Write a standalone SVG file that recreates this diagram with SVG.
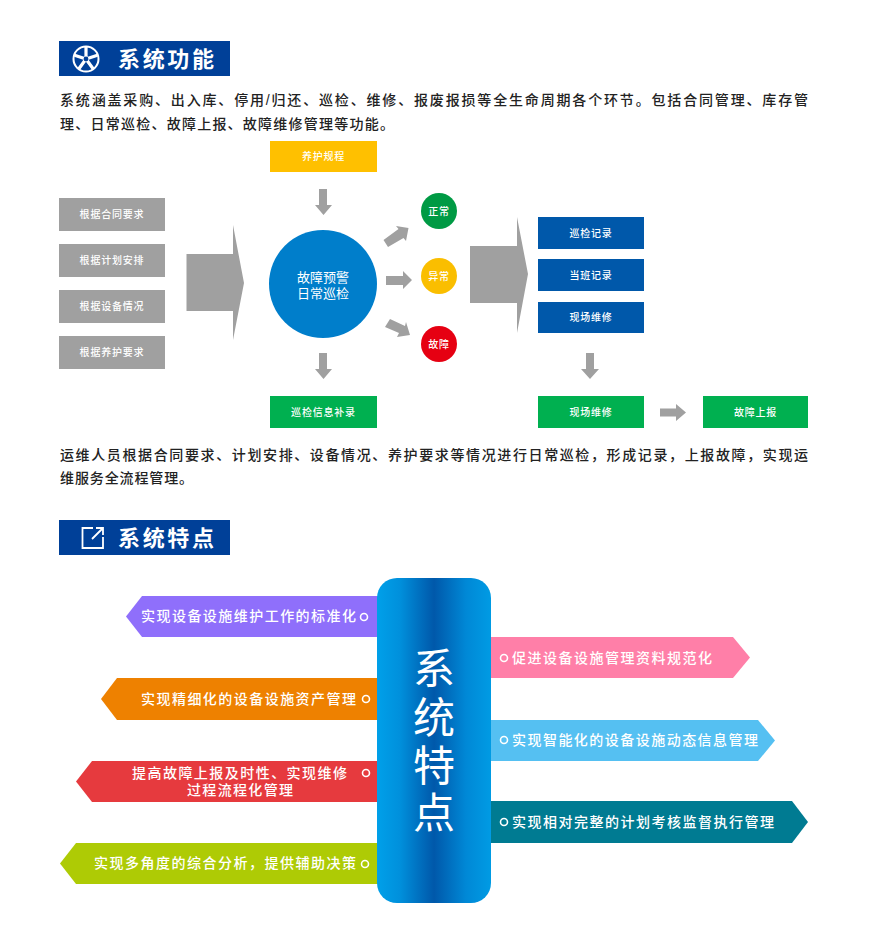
<svg xmlns="http://www.w3.org/2000/svg" width="883" height="948" viewBox="0 0 883 948">
<style>
text{font-family:"Liberation Sans","Noto Sans CJK SC",sans-serif}
.head{fill:#004098}
.ht{font-size:22px;font-weight:700;fill:#fff}
.body{font-size:14px;font-weight:500;fill:#222}
.box{font-size:10px;font-weight:500;fill:#fff;text-anchor:middle;letter-spacing:.8px}
.ban{font-size:14px;font-weight:500;fill:#fff}
.ring{fill:none;stroke:#fff;stroke-width:1.6}
.ar{fill:#a0a0a0}
</style>
<defs>
<linearGradient id="pill" x1="0" x2="1" y1="0" y2="0">
<stop offset="0" stop-color="#00a0e9"/><stop offset=".2" stop-color="#0090dc"/><stop offset=".5" stop-color="#0058aa"/><stop offset=".78" stop-color="#0088d6"/><stop offset="1" stop-color="#009be4"/>
</linearGradient>
</defs>
<rect width="883" height="948" fill="#fff"/>
<g id="header-functions">
<rect class="head" x="59" y="41" width="171" height="35"/>
<circle cx="86" cy="59" r="12.500" fill="none" stroke="#fff" stroke-width="2"/>
<path d="M86 47V59M97.400 55.300L86 59M93.100 68.700L86 59M78.900 68.700L86 59M74.600 55.300L86 59" stroke="#fff" stroke-width="3.200" fill="none"/>
<circle cx="86" cy="59" r="2.400" fill="#004098"/>
<text class="ht" x="118" y="67" textLength="96">系统功能</text>
</g>
<g id="intro">
<text class="body" x="60" y="105" textLength="748">系统涵盖采购、出入库、停用/归还、巡检、维修、报废报损等全生命周期各个环节。包括合同管理、库存管</text>
<text class="body" x="60" y="129" textLength="334">理、日常巡检、故障上报、故障维修管理等功能。</text>
</g>
<g id="connectors">
<path class="ar" d="M186.500 254H233V225L244 283 233 340V311H186.500Z"/>
<path class="ar" d="M470 246H517V217L528 274 517 333V303H470Z"/>
<path class="ar" d="M319 189H327V205H332L323.500 215 315 205H319Z"/>
<path class="ar" d="M319 353H327V369H332L323.500 379 315 369H319Z"/>
<path class="ar" d="M586 353H594V369H599L590 379 581 369H586Z"/>
<path class="ar" d="M660 408.500H676V404L686 412.500 676 421V416.500H660Z"/>
<path class="ar" d="M383.500 240L398.500 229 396 226 408.500 228 406 241 403.500 238 388 247Z"/>
<path class="ar" d="M386 276H403V271L412 280 403 289V285H386Z"/>
<path class="ar" d="M390 319L405 326 406 322 410 335 397 337 399 333 385 327Z"/>
</g>
<g id="inputs">
<g id="input-1"><rect class="ar" x="59" y="198" width="106" height="33"/><text class="box" x="112" y="218">根据合同要求</text></g>
<g id="input-2"><rect class="ar" x="59" y="244" width="106" height="33"/><text class="box" x="112" y="264">根据计划安排</text></g>
<g id="input-3"><rect class="ar" x="59" y="290" width="106" height="33"/><text class="box" x="112" y="310">根据设备情况</text></g>
<g id="input-4"><rect class="ar" x="59" y="336" width="106" height="33"/><text class="box" x="112" y="356">根据养护要求</text></g>
</g>
<g id="node-rules"><rect x="270" y="141" width="107" height="31" fill="#ffc000"/><text class="box" x="323.500" y="160">养护规程</text></g>
<g id="node-center"><circle cx="323" cy="284" r="54" fill="#007ecb"/>
<text fill="#fff" font-size="13" text-anchor="middle"><tspan x="323" y="281.500">故障预警</tspan><tspan x="323" y="297.500">日常巡检</tspan></text></g>
<g id="node-normal"><circle cx="439" cy="211" r="18" fill="#009a44"/><text class="box" x="439" y="215">正常</text></g>
<g id="node-abnormal"><circle cx="439" cy="276" r="18" fill="#fabe00"/><text class="box" x="439" y="280">异常</text></g>
<g id="node-fault"><circle cx="439" cy="344" r="18" fill="#e60012"/><text class="box" x="439" y="348">故障</text></g>
<g id="node-patrol"><rect x="538" y="217" width="106" height="32" fill="#0058aa"/><text class="box" x="591" y="237">巡检记录</text></g>
<g id="node-duty"><rect x="538" y="259" width="106" height="32" fill="#0058aa"/><text class="box" x="591" y="279">当班记录</text></g>
<g id="node-site"><rect x="538" y="302" width="106" height="31" fill="#0058aa"/><text class="box" x="591" y="321">现场维修</text></g>
<g id="node-supp"><rect x="270" y="396" width="107" height="32" fill="#00b050"/><text class="box" x="323.500" y="416">巡检信息补录</text></g>
<g id="node-repair"><rect x="538" y="396" width="106" height="32" fill="#00b050"/><text class="box" x="591" y="416">现场维修</text></g>
<g id="node-report"><rect x="703" y="396" width="105" height="32" fill="#00b050"/><text class="box" x="755.500" y="416">故障上报</text></g>
<g id="summary">
<text class="body" x="60" y="460" textLength="748">运维人员根据合同要求、计划安排、设备情况、养护要求等情况进行日常巡检，形成记录，上报故障，实现运</text>
<text class="body" x="60" y="483" textLength="133">维服务全流程管理。</text>
</g>
<g id="header-features">
<rect class="head" x="59" y="520" width="171" height="35"/>
<path d="M93 528H82.500V548H103V537M92 539L102.500 528.500M96 528H103V535" fill="none" stroke="#fff" stroke-width="1.800"/>
<text class="ht" x="118" y="546" textLength="96">系统特点</text>
</g>
<g id="banner-1"><path d="M142 596H380V637H142L126 616.500Z" fill="#8f6ffb"/><text class="ban" x="141" y="621" textLength="215">实现设备设施维护工作的标准化</text><circle class="ring" cx="364" cy="617" r="3.500"/></g>
<g id="banner-2"><path d="M117 678H380V720H117L101 699Z" fill="#ee8100"/><text class="ban" x="141" y="704" textLength="215">实现精细化的设备设施资产管理</text><circle class="ring" cx="366" cy="699" r="3.500"/></g>
<g id="banner-3"><path d="M92 761H380V802H92L76 781.500Z" fill="#e63a3e"/><text class="ban"><tspan x="132" y="778" textLength="215">提高故障上报及时性、实现维修</tspan><tspan x="187" y="795" textLength="106">过程流程化管理</tspan></text><circle class="ring" cx="366" cy="773" r="3.500"/></g>
<g id="banner-4"><path d="M76 843H380V884H76L60 863.500Z" fill="#aecb05"/><text class="ban" x="94" y="868" textLength="262">实现多角度的综合分析，提供辅助决策</text><circle class="ring" cx="365" cy="864" r="3.500"/></g>
<g id="banner-5"><path d="M488 637H733L750 657.500 733 678H488Z" fill="#ff7fa8"/><circle class="ring" cx="504" cy="658" r="3.500"/><text class="ban" x="512" y="663" textLength="200">促进设备设施管理资料规范化</text></g>
<g id="banner-6"><path d="M488 720H758L775 740.500 758 761H488Z" fill="#55c0f2"/><circle class="ring" cx="504" cy="740" r="3.500"/><text class="ban" x="512" y="745" textLength="246">实现智能化的设备设施动态信息管理</text></g>
<g id="banner-7"><path d="M488 801H792L808 822 792 843H488Z" fill="#007b92"/><circle class="ring" cx="504" cy="822" r="3.500"/><text class="ban" x="512" y="827" textLength="262">实现相对完整的计划考核监督执行管理</text></g>
<g id="node-features"><rect x="377" y="578" width="114" height="325" rx="20" fill="url(#pill)"/>
<text fill="#fff" font-size="42" text-anchor="middle"><tspan x="434" y="684">系</tspan><tspan x="434" y="733">统</tspan><tspan x="434" y="781">特</tspan><tspan x="434" y="828">点</tspan></text></g>
</svg>
